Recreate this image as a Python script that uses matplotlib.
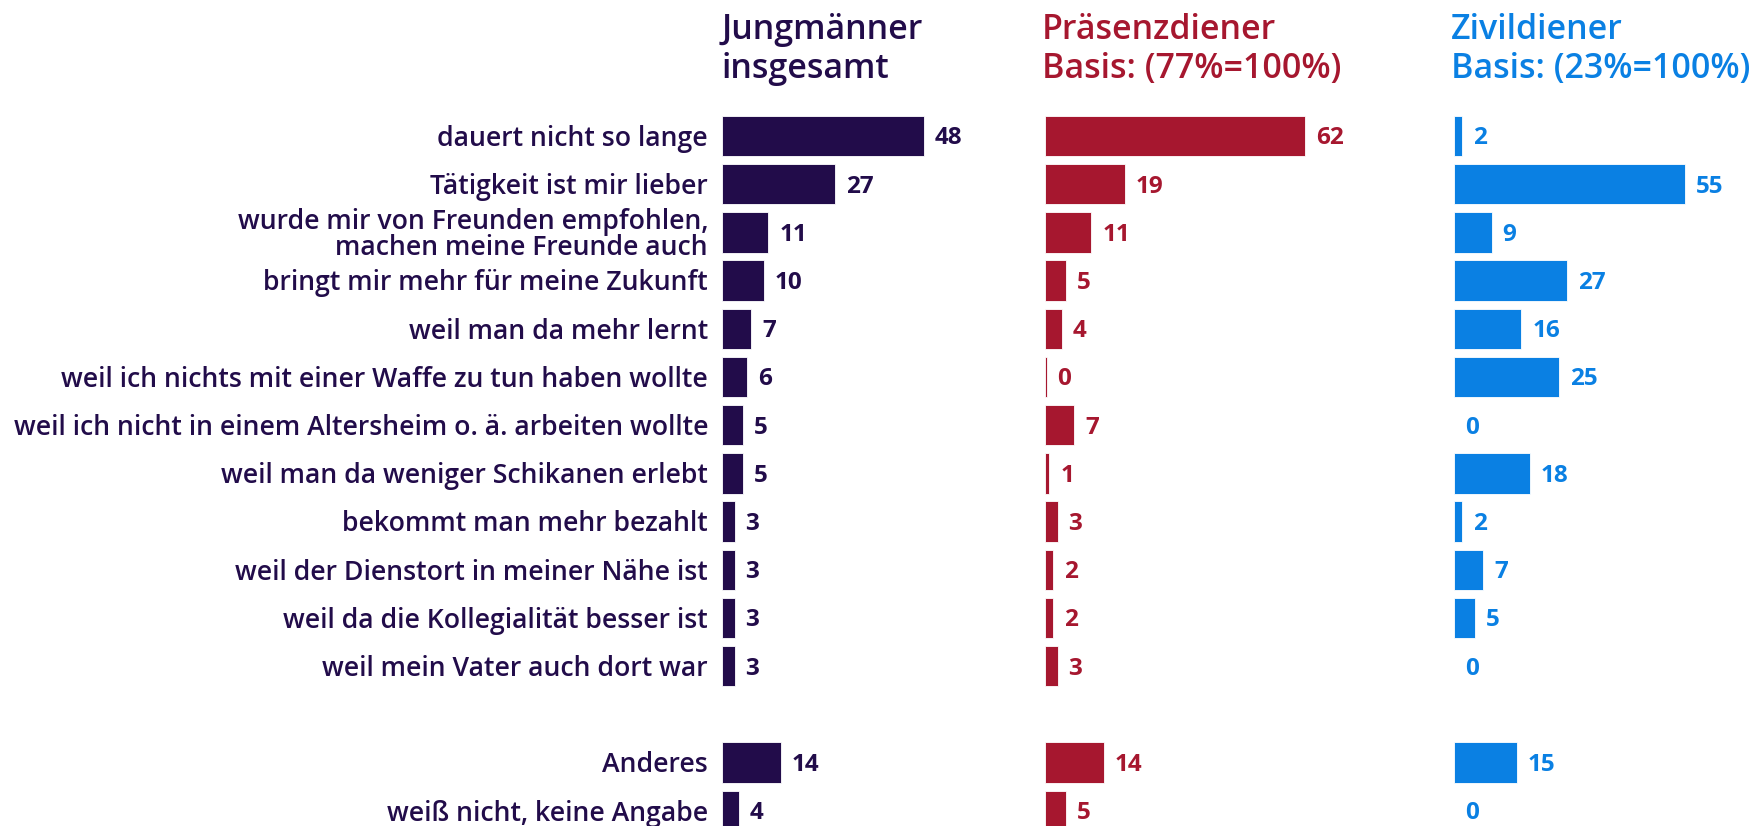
import matplotlib.pyplot as plt

plt.rcParams['font.family'] = ['Open Sans', 'DejaVu Sans']

categories = [
    "dauert nicht so lange",
    "Tätigkeit ist mir lieber",
    "wurde mir von Freunden empfohlen,\nmachen meine Freunde auch",
    "bringt mir mehr für meine Zukunft",
    "weil man da mehr lernt",
    "weil ich nichts mit einer Waffe zu tun haben wollte",
    "weil ich nicht in einem Altersheim o. ä. arbeiten wollte",
    "weil man da weniger Schikanen erlebt",
    "bekommt man mehr bezahlt",
    "weil der Dienstort in meiner Nähe ist",
    "weil da die Kollegialität besser ist",
    "weil mein Vater auch dort war",
    "Anderes",
    "weiß nicht, keine Angabe",
]
# row positions (gap before "Anderes")
rows = list(range(12)) + [13, 14]

gesamt = [48, 27, 11, 10, 7, 6, 5, 5, 3, 3, 3, 3, 14, 4]
praesenz = [62, 19, 11, 5, 4, 0.4, 7, 1, 3, 2, 2, 3, 14, 5]
zivil = [2, 55, 9, 27, 16, 25, 0, 18, 2, 7, 5, 0, 15, 0]

titles = ["Jungmänner\ninsgesamt",
          "Präsenzdiener\nBasis: (77%=100%)",
          "Zivildiener\nBasis: (23%=100%)"]
colors = ["#220C4A", "#A6172F", "#0A80E3"]
series = [gesamt, praesenz, zivil]

W, H = 1762, 826
fig = plt.figure(figsize=(W / 100, H / 100), dpi=100)

px_per_unit = 4.2
ax_w = 300
lefts = [722, 1045, 1454]
ax_top, row0, row_step = 100, 136, 48.2

for i, (vals, col, title, left) in enumerate(zip(series, colors, titles, lefts)):
    ax = fig.add_axes([left / W, 0, ax_w / W, (H - ax_top) / H])
    ax.barh(rows, vals, height=0.84, color=col, edgecolor="white", linewidth=0.6)
    for r, v in zip(rows, vals):
        ax.text(v + 2.6, r + 0.05, f"{round(v)}", va="center", ha="left",
                fontsize=17.5, fontweight="bold", color=col)
    ax.set_xlim(0, ax_w / px_per_unit)
    ax.set_ylim((H - row0) / row_step, (ax_top - row0) / row_step)
    ax.axis("off")
    fig.text(left / W - (3 / W if i else 0), 1 - 13 / H, title, ha="left", va="top",
             fontsize=24.5, fontweight="semibold", color=col, linespacing=1.2)
    if i == 0:
        for r, c in zip(rows, categories):
            ax.text(-14 / px_per_unit, r + 0.06, c, va="center", ha="right",
                    fontsize=19.2, fontweight="semibold", color=col,
                    linespacing=0.9)

fig.savefig("out.png", dpi=100)
